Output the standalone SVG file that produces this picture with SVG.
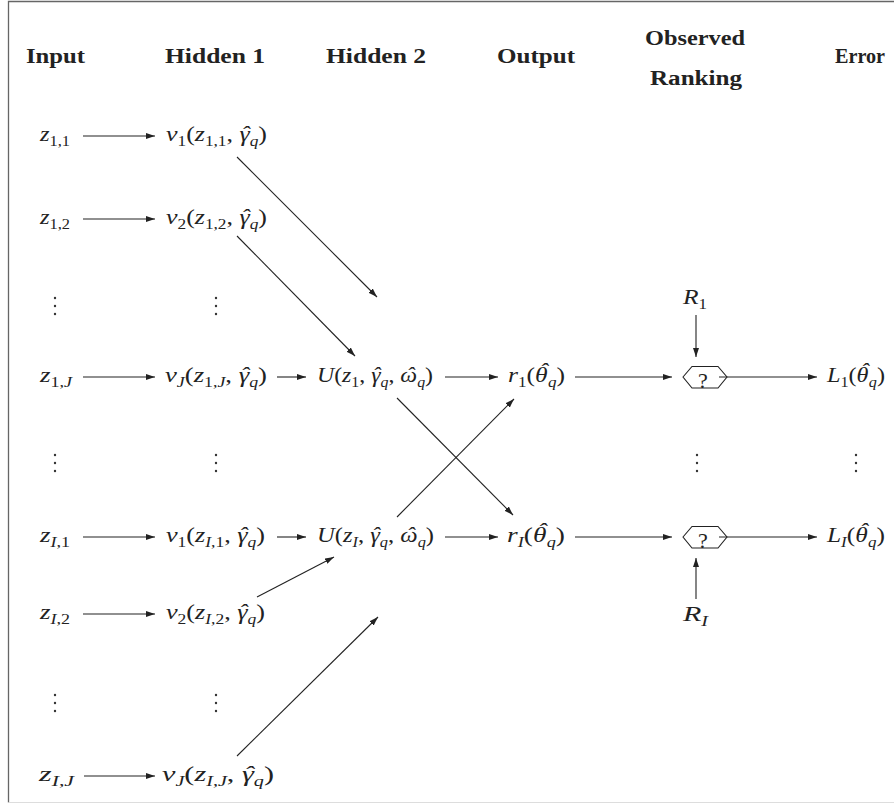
<svg xmlns="http://www.w3.org/2000/svg" width="894" height="804" viewBox="0 0 894 804">
  <defs>
    <marker id="tip" markerUnits="userSpaceOnUse" markerWidth="10" markerHeight="7" refX="9" refY="3" orient="auto">
      <path d="M0,0 L9,3 L0,6 z" fill="#222"/>
    </marker>
    <style>
      .hd { font-family: "Liberation Serif", "DejaVu Serif", serif; font-weight: bold; font-size: 20px; fill: #222; }
      .m { font-family: "Liberation Serif", "DejaVu Serif", serif; font-size: 21px; fill: #222; }
      .i { font-style: italic; }
      .s { font-size: 14px; }
      .edge { stroke: #222; stroke-width: 1.1; fill: none; marker-end: url(#tip); }
      .hex { stroke: #222; stroke-width: 1.1; fill: #fff; }
      .dot { fill: #333; }
    </style>
  </defs>

  <rect width="894" height="804" fill="#fff"/>
  <!-- frame -->
  <path d="M894 1.5 H8.5 V802.5" stroke="#666" stroke-width="1.3" fill="none"/>
  <path d="M8.5 802.5 H894" stroke="#ddd" stroke-width="1" fill="none"/>

  <!-- column headings -->
  <g id="headings">
    <text class="hd" x="26" y="63" textLength="59" lengthAdjust="spacingAndGlyphs">Input</text>
    <text class="hd" x="165" y="63" textLength="100" lengthAdjust="spacingAndGlyphs">Hidden 1</text>
    <text class="hd" x="326" y="63" textLength="100" lengthAdjust="spacingAndGlyphs">Hidden 2</text>
    <text class="hd" x="497" y="63" textLength="78" lengthAdjust="spacingAndGlyphs">Output</text>
    <text class="hd" x="645" y="45" textLength="100" lengthAdjust="spacingAndGlyphs">Observed</text>
    <text class="hd" x="650" y="85" textLength="92" lengthAdjust="spacingAndGlyphs">Ranking</text>
    <text class="hd" x="835" y="63" textLength="50" lengthAdjust="spacingAndGlyphs">Error</text>
  </g>

  <!-- input layer -->
  <g id="z11"><text class="m" x="40" y="141" textLength="30" lengthAdjust="spacingAndGlyphs"><tspan class="i">z</tspan><tspan class="s" dy="4.5">1,1</tspan></text></g>
  <g id="z12"><text class="m" x="40" y="224" textLength="30" lengthAdjust="spacingAndGlyphs"><tspan class="i">z</tspan><tspan class="s" dy="4.5">1,2</tspan></text></g>
  <g id="z1J"><text class="m" x="40" y="382" textLength="32" lengthAdjust="spacingAndGlyphs"><tspan class="i">z</tspan><tspan class="s" dy="4.5">1,</tspan><tspan class="s i">J</tspan></text></g>
  <g id="zI1"><text class="m" x="40" y="542" textLength="30" lengthAdjust="spacingAndGlyphs"><tspan class="i">z</tspan><tspan class="s i" dy="4.5">I</tspan><tspan class="s">,1</tspan></text></g>
  <g id="zI2"><text class="m" x="40" y="619" textLength="30" lengthAdjust="spacingAndGlyphs"><tspan class="i">z</tspan><tspan class="s i" dy="4.5">I</tspan><tspan class="s">,2</tspan></text></g>
  <g id="zIJ"><text class="m" x="39" y="781" textLength="35" lengthAdjust="spacingAndGlyphs"><tspan class="i">z</tspan><tspan class="s i" dy="4.5">I</tspan><tspan class="s">,</tspan><tspan class="s i">J</tspan></text></g>

  <!-- hidden layer 1 -->
  <g id="v11"><text class="m" x="166" y="141" textLength="101" lengthAdjust="spacingAndGlyphs"><tspan class="i">v</tspan><tspan class="s" dy="4.5">1</tspan><tspan dy="-4.5">(</tspan><tspan class="i">z</tspan><tspan class="s" dy="4.5">1,1</tspan><tspan dy="-4.5">, </tspan><tspan class="i">&#947;</tspan><tspan class="i" dx="-7">&#710;</tspan><tspan class="s i" dy="4.5">q</tspan><tspan dy="-4.5">)</tspan></text></g>
  <g id="v12"><text class="m" x="166" y="224" textLength="101" lengthAdjust="spacingAndGlyphs"><tspan class="i">v</tspan><tspan class="s" dy="4.5">2</tspan><tspan dy="-4.5">(</tspan><tspan class="i">z</tspan><tspan class="s" dy="4.5">1,2</tspan><tspan dy="-4.5">, </tspan><tspan class="i">&#947;</tspan><tspan class="i" dx="-7">&#710;</tspan><tspan class="s i" dy="4.5">q</tspan><tspan dy="-4.5">)</tspan></text></g>
  <g id="v1J"><text class="m" x="165" y="382" textLength="102" lengthAdjust="spacingAndGlyphs"><tspan class="i">v</tspan><tspan class="s i" dy="4.5">J</tspan><tspan dy="-4.5">(</tspan><tspan class="i">z</tspan><tspan class="s" dy="4.5">1,</tspan><tspan class="s i">J</tspan><tspan dy="-4.5">, </tspan><tspan class="i">&#947;</tspan><tspan class="i" dx="-7">&#710;</tspan><tspan class="s i" dy="4.5">q</tspan><tspan dy="-4.5">)</tspan></text></g>
  <g id="vI1"><text class="m" x="166" y="542" textLength="99" lengthAdjust="spacingAndGlyphs"><tspan class="i">v</tspan><tspan class="s" dy="4.5">1</tspan><tspan dy="-4.5">(</tspan><tspan class="i">z</tspan><tspan class="s i" dy="4.5">I</tspan><tspan class="s">,1</tspan><tspan dy="-4.5">, </tspan><tspan class="i">&#947;</tspan><tspan class="i" dx="-7">&#710;</tspan><tspan class="s i" dy="4.5">q</tspan><tspan dy="-4.5">)</tspan></text></g>
  <g id="vI2"><text class="m" x="166" y="619" textLength="99" lengthAdjust="spacingAndGlyphs"><tspan class="i">v</tspan><tspan class="s" dy="4.5">2</tspan><tspan dy="-4.5">(</tspan><tspan class="i">z</tspan><tspan class="s i" dy="4.5">I</tspan><tspan class="s">,2</tspan><tspan dy="-4.5">, </tspan><tspan class="i">&#947;</tspan><tspan class="i" dx="-7">&#710;</tspan><tspan class="s i" dy="4.5">q</tspan><tspan dy="-4.5">)</tspan></text></g>
  <g id="vIJ"><text class="m" x="162" y="781" textLength="112" lengthAdjust="spacingAndGlyphs"><tspan class="i">v</tspan><tspan class="s i" dy="4.5">J</tspan><tspan dy="-4.5">(</tspan><tspan class="i">z</tspan><tspan class="s i" dy="4.5">I</tspan><tspan class="s">,</tspan><tspan class="s i">J</tspan><tspan dy="-4.5">, </tspan><tspan class="i">&#947;</tspan><tspan class="i" dx="-7">&#710;</tspan><tspan class="s i" dy="4.5">q</tspan><tspan dy="-4.5">)</tspan></text></g>

  <!-- hidden layer 2 -->
  <g id="U1"><text class="m" x="317" y="382" textLength="116" lengthAdjust="spacingAndGlyphs"><tspan class="i">U</tspan>(<tspan class="i">z</tspan><tspan class="s" dy="4.5">1</tspan><tspan dy="-4.5">, </tspan><tspan class="i">&#947;</tspan><tspan class="i" dx="-7">&#710;</tspan><tspan class="s i" dy="4.5">q</tspan><tspan dy="-4.5">, </tspan><tspan class="i">&#969;</tspan><tspan class="i" dx="-9.5">&#710;</tspan><tspan class="s i" dx="2.5" dy="4.5">q</tspan><tspan dy="-4.5">)</tspan></text></g>
  <g id="UI"><text class="m" x="317" y="542" textLength="117" lengthAdjust="spacingAndGlyphs"><tspan class="i">U</tspan>(<tspan class="i">z</tspan><tspan class="s i" dy="4.5">I</tspan><tspan dy="-4.5">, </tspan><tspan class="i">&#947;</tspan><tspan class="i" dx="-7">&#710;</tspan><tspan class="s i" dy="4.5">q</tspan><tspan dy="-4.5">, </tspan><tspan class="i">&#969;</tspan><tspan class="i" dx="-9.5">&#710;</tspan><tspan class="s i" dx="2.5" dy="4.5">q</tspan><tspan dy="-4.5">)</tspan></text></g>

  <!-- output layer -->
  <g id="r1"><text class="m" x="508" y="382" textLength="57" lengthAdjust="spacingAndGlyphs"><tspan class="i">r</tspan><tspan class="s" dy="4.5">1</tspan><tspan dy="-4.5">(</tspan><tspan class="i">&#952;</tspan><tspan class="i" dx="-6.7" dy="-4">&#710;</tspan><tspan class="s i" dy="8.5">q</tspan><tspan dy="-4.5">)</tspan></text></g>
  <g id="rI"><text class="m" x="507" y="542" textLength="58" lengthAdjust="spacingAndGlyphs"><tspan class="i">r</tspan><tspan class="s i" dy="4.5">I</tspan><tspan dy="-4.5">(</tspan><tspan class="i">&#952;</tspan><tspan class="i" dx="-6.7" dy="-4">&#710;</tspan><tspan class="s i" dy="8.5">q</tspan><tspan dy="-4.5">)</tspan></text></g>

  <!-- observed rankings and comparison nodes -->
  <g id="R1"><text class="m" x="683" y="304" textLength="24" lengthAdjust="spacingAndGlyphs"><tspan class="i">R</tspan><tspan class="s" dy="4.5">1</tspan></text></g>
  <g id="RI"><text class="m" x="683" y="621" textLength="25" lengthAdjust="spacingAndGlyphs"><tspan class="i">R</tspan><tspan class="s i" dy="4.5">I</tspan></text></g>
  <g id="cmp1">
    <polygon class="hex" points="683,377 692,366.5 718,366.5 727,377 718,388 692,388"/>
    <text class="m" x="703" y="388" text-anchor="middle" style="font-size:22px">?</text>
  </g>
  <g id="cmpI">
    <polygon class="hex" points="683,537 692,526.5 718,526.5 727,537 718,548 692,548"/>
    <text class="m" x="703" y="548" text-anchor="middle" style="font-size:22px">?</text>
  </g>

  <!-- error layer -->
  <g id="L1"><text class="m" x="827" y="382" textLength="58" lengthAdjust="spacingAndGlyphs"><tspan class="i">L</tspan><tspan class="s" dy="4.5">1</tspan><tspan dy="-4.5">(</tspan><tspan class="i">&#952;</tspan><tspan class="i" dx="-6.7" dy="-4">&#710;</tspan><tspan class="s i" dy="8.5">q</tspan><tspan dy="-4.5">)</tspan></text></g>
  <g id="LI"><text class="m" x="827" y="542" textLength="58" lengthAdjust="spacingAndGlyphs"><tspan class="i">L</tspan><tspan class="s i" dy="4.5">I</tspan><tspan dy="-4.5">(</tspan><tspan class="i">&#952;</tspan><tspan class="i" dx="-6.7" dy="-4">&#710;</tspan><tspan class="s i" dy="8.5">q</tspan><tspan dy="-4.5">)</tspan></text></g>

  <!-- vertical ellipses -->
  <g id="ellipses">
    <circle class="dot" cx="55" cy="298" r="1.2"/><circle class="dot" cx="55" cy="306" r="1.2"/><circle class="dot" cx="55" cy="314" r="1.2"/>
    <circle class="dot" cx="216" cy="298" r="1.2"/><circle class="dot" cx="216" cy="306" r="1.2"/><circle class="dot" cx="216" cy="314" r="1.2"/>
    <circle class="dot" cx="55" cy="455" r="1.2"/><circle class="dot" cx="55" cy="463" r="1.2"/><circle class="dot" cx="55" cy="471" r="1.2"/>
    <circle class="dot" cx="216" cy="455" r="1.2"/><circle class="dot" cx="216" cy="463" r="1.2"/><circle class="dot" cx="216" cy="471" r="1.2"/>
    <circle class="dot" cx="697" cy="455" r="1.2"/><circle class="dot" cx="697" cy="463" r="1.2"/><circle class="dot" cx="697" cy="471" r="1.2"/>
    <circle class="dot" cx="856" cy="455" r="1.2"/><circle class="dot" cx="856" cy="463" r="1.2"/><circle class="dot" cx="856" cy="471" r="1.2"/>
    <circle class="dot" cx="55" cy="695" r="1.2"/><circle class="dot" cx="55" cy="703" r="1.2"/><circle class="dot" cx="55" cy="711" r="1.2"/>
    <circle class="dot" cx="216" cy="695" r="1.2"/><circle class="dot" cx="216" cy="703" r="1.2"/><circle class="dot" cx="216" cy="711" r="1.2"/>
  </g>

  <!-- connectors -->
  <g id="connectors">
    <line class="edge" x1="83" y1="136" x2="155" y2="136"/>
    <line class="edge" x1="83" y1="219" x2="155" y2="219"/>
    <line class="edge" x1="83" y1="377" x2="155" y2="377"/>
    <line class="edge" x1="83" y1="537" x2="155" y2="537"/>
    <line class="edge" x1="83" y1="614" x2="155" y2="614"/>
    <line class="edge" x1="84" y1="776" x2="155" y2="776"/>

    <line class="edge" x1="237" y1="157" x2="377" y2="297"/>
    <line class="edge" x1="237" y1="236" x2="355" y2="356"/>
    <line class="edge" x1="277" y1="377" x2="306" y2="377"/>
    <line class="edge" x1="277" y1="537" x2="306" y2="537"/>
    <line class="edge" x1="257" y1="597" x2="334" y2="557"/>
    <line class="edge" x1="237" y1="756" x2="378" y2="617"/>

    <line class="edge" x1="445" y1="377" x2="498" y2="377"/>
    <line class="edge" x1="445" y1="537" x2="498" y2="537"/>
    <line class="edge" x1="397" y1="398" x2="513" y2="515"/>
    <line class="edge" x1="397" y1="517" x2="514" y2="399"/>

    <line class="edge" x1="575" y1="377" x2="672" y2="377"/>
    <line class="edge" x1="575" y1="537" x2="672" y2="537"/>
    <line class="edge" x1="696" y1="315" x2="696" y2="357"/>
    <line class="edge" x1="696" y1="599" x2="696" y2="558"/>
    <line class="edge" x1="719" y1="377" x2="817" y2="377"/>
    <line class="edge" x1="719" y1="537" x2="817" y2="537"/>
  </g>
</svg>
